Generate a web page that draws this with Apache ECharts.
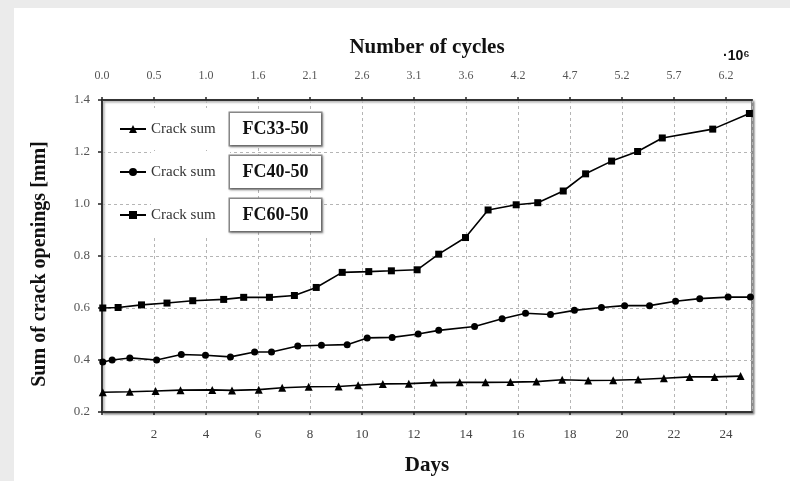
<!DOCTYPE html>
<html><head><meta charset="utf-8">
<script src="https://cdn.jsdelivr.net/npm/echarts@6/dist/echarts.min.js"></script>
<style>
html,body{margin:0;padding:0;width:790px;height:481px;background:#ebebeb;overflow:hidden}
#c{position:absolute;left:14px;top:8px;width:776px;height:473px;background:#fff}
</style></head><body><div id="c"></div>
<script>
// ---- data ----
const fc33Days = [0.03,1.07,2.06,3.02,4.24,5.0,6.03,6.93,7.95,9.1,9.85,10.8,11.8,12.76,13.76,14.75,15.71,16.71,17.7,18.7,19.66,20.62,21.61,22.6,23.56,24.56];
const fc33Vals = [0.276,0.278,0.281,0.284,0.285,0.283,0.286,0.293,0.297,0.298,0.303,0.308,0.309,0.313,0.314,0.314,0.315,0.317,0.324,0.321,0.322,0.325,0.330,0.335,0.335,0.338];
const fc40Days = [0.03,0.39,1.07,2.1,3.05,3.98,4.94,5.87,6.52,7.53,8.44,9.43,10.2,11.16,12.16,12.95,14.33,15.39,16.29,17.25,18.17,19.21,20.1,21.06,22.06,22.99,24.08,24.94];
const fc40Vals = [0.392,0.400,0.408,0.400,0.421,0.418,0.412,0.431,0.431,0.454,0.457,0.459,0.485,0.487,0.500,0.514,0.529,0.559,0.580,0.575,0.591,0.602,0.609,0.609,0.626,0.636,0.642,0.642];
const fc60Days = [0.03,0.62,1.52,2.5,3.49,4.68,5.45,6.44,7.4,8.24,9.24,10.26,11.13,12.12,12.95,13.98,14.85,15.93,16.76,17.74,18.6,19.6,20.6,21.55,23.49,24.9];
const fc60Vals = [0.600,0.602,0.612,0.619,0.628,0.633,0.641,0.641,0.648,0.679,0.737,0.740,0.743,0.747,0.807,0.871,0.977,0.997,1.005,1.050,1.116,1.165,1.202,1.254,1.288,1.348];
const seriesNames = ['FC33-50','FC40-50','FC60-50'];
const legendLabel = 'Crack sum';
const yTicks = {min:0.2, max:1.4, interval:0.2};
const dayTicks = {min:0, max:25, interval:2};
const cycleTicks = {min:0, max:6.5, interval:0.52};

const pair = (xs, ys) => xs.map((x,i)=>[x, ys[i]]);
const serif = 'Liberation Serif, Times New Roman, serif';
const chart = echarts.init(document.getElementById('c'), null, {renderer:'canvas'});
const mk = (name, data, sym) => ({
  name, type:'line', xAxisIndex:0, yAxisIndex:0, data,
  symbol:sym, symbolSize: sym==='triangle'?8:7,
  lineStyle:{color:'#000', width:1.6},
  itemStyle:{color:'#000'}, animation:false
});
chart.setOption({
  animation:false,
  grid:{left:88, top:92, width:650, height:313, show:true, borderColor:'#8a8a8a', borderWidth:2,
        backgroundColor:'#fff', shadowColor:'rgba(0,0,0,0.35)', shadowBlur:2, shadowOffsetX:1.5, shadowOffsetY:1.5},
  xAxis:[{
    type:'value', position:'bottom', min:dayTicks.min, max:dayTicks.max, interval:dayTicks.interval,
    name:'Days', nameLocation:'middle', nameGap:43,
    nameTextStyle:{fontFamily:serif, fontWeight:'bold', fontSize:21, color:'#111'},
    axisLine:{show:true, lineStyle:{color:'#333', width:2}},
    axisTick:{show:true, length:3, lineStyle:{color:'#222', width:1.5}},
    axisLabel:{fontFamily:serif, fontSize:13, color:'#444', margin:16,
      formatter:v=> v===0 ? '' : String(v), showMaxLabel:false},
    splitLine:{show:true, lineStyle:{color:'#b5b5b5', width:1, type:[3,3]}}
  },{
    type:'value', position:'top', min:cycleTicks.min, max:cycleTicks.max, interval:cycleTicks.interval,
    name:'Number of cycles', nameLocation:'middle', nameGap:42,
    nameTextStyle:{fontFamily:serif, fontWeight:'bold', fontSize:21, color:'#111'},
    axisLine:{show:true, lineStyle:{color:'#333', width:2}},
    axisTick:{show:true, length:3, lineStyle:{color:'#222', width:1.5}},
    axisLabel:{fontFamily:serif, fontSize:12, color:'#555', margin:18,
      formatter:v=> v>6.4 ? '' : v.toFixed(1), showMaxLabel:false},
    splitLine:{show:false}
  }],
  yAxis:[{
    type:'value', min:yTicks.min, max:yTicks.max, interval:yTicks.interval,
    name:'Sum of crack openings [mm]', nameLocation:'middle', nameGap:52,
    nameTextStyle:{fontFamily:serif, fontWeight:'bold', fontSize:20, color:'#111', padding:[0,16,0,0]},
    axisLine:{show:true, lineStyle:{color:'#333', width:2}},
    axisTick:{show:true, length:4, lineStyle:{color:'#222', width:1.5}},
    axisLabel:{fontFamily:serif, fontSize:13, color:'#555', margin:12, formatter:v=>v.toFixed(1)},
    splitLine:{show:true, lineStyle:{color:'#b5b5b5', width:1, type:[3,3]}}
  }],
  legend:{
    show:true, orient:'vertical', left:100, top:95, itemGap:1, itemWidth:26, itemHeight:10,
    data:seriesNames,
    formatter:n=>'{a|'+legendLabel+'}{b|'+n+'}',
    textStyle:{
      rich:{
        a:{fontFamily:serif, fontSize:15, color:'#333', width:79, height:42, lineHeight:42, backgroundColor:'#fff', verticalAlign:'middle'},
        b:{fontFamily:serif, fontSize:18, fontWeight:'bold', color:'#111', width:75, align:'center', height:22, lineHeight:22,
           padding:[5,8,5,8], borderColor:'#8a8a8a', borderWidth:1.5, backgroundColor:'#fff',
           shadowColor:'rgba(0,0,0,0.3)', shadowBlur:2, shadowOffsetX:1, shadowOffsetY:1, verticalAlign:'middle'}
      }
    }
  },
  graphic:[{
    type:'text', left:709, top:41,
    style:{text:'·10⁶', fontFamily:'Liberation Sans, Arial, sans-serif', fontWeight:'bold', fontSize:14, fill:'#111'}
  }],
  series:[
    mk(seriesNames[0], pair(fc33Days, fc33Vals), 'triangle'),
    mk(seriesNames[1], pair(fc40Days, fc40Vals), 'circle'),
    mk(seriesNames[2], pair(fc60Days, fc60Vals), 'rect')
  ]
});
</script></body></html>
